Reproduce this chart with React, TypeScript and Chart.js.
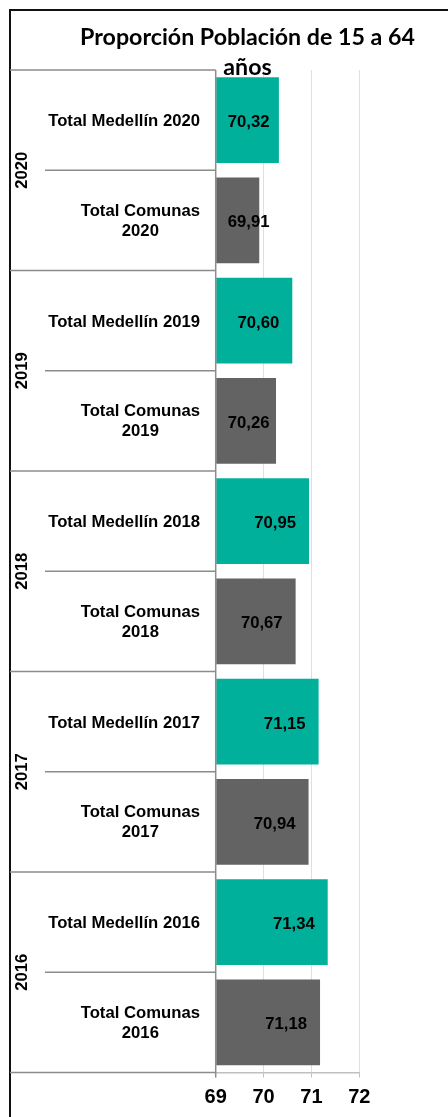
import React, { useEffect, useRef } from 'react';
import { Chart, registerables } from 'chart.js';

Chart.register(...registerables);

const years = ['2020', '2019', '2018', '2017', '2016'];
const medellin = [70.32, 70.6, 70.95, 71.15, 71.34];
const comunas = [69.91, 70.26, 70.67, 70.94, 71.18];
const xTicks = [69, 70, 71, 72];
const titleLines = ['Proporción Población de 15 a 64', 'años'];

const TEAL = '#00B09B';
const GRAY = '#636363';
const SANS = "'Liberation Sans', Arial, sans-serif";
const TITLE_FONT = "Lato, 'Open Sans', sans-serif";

const catLabels: string[][] = [];
const values: number[] = [];
const colors: string[] = [];
years.forEach((y, i) => {
  catLabels.push([`Total Medellín ${y}`]);
  values.push(medellin[i]);
  colors.push(TEAL);
  catLabels.push(['Total Comunas', y]);
  values.push(comunas[i]);
  colors.push(GRAY);
});

const fmt = (v: number) => v.toFixed(2).replace('.', ',');

const decorPlugin = {
  id: 'decor',
  afterDatasetsDraw(chart: any) {
    const { ctx, chartArea: ca, scales } = chart;
    const xs = scales.x;
    const ys = scales.y;
    ctx.save();
    ctx.font = `bold 16.7px ${SANS}`;
    ctx.fillStyle = '#000';
    ctx.textAlign = 'left';
    ctx.textBaseline = 'alphabetic';
    values.forEach((v, i) => {
      const start = xs.getPixelForValue(69);
      const end = xs.getPixelForValue(v);
      const txt = fmt(v);
      const w = ctx.measureText(txt).width;
      const x = Math.max(start + 12, end - 13 - w);
      const cy = ys.getPixelForValue(i);
      ctx.fillText(txt, x, cy + 7);
    });
    ctx.restore();
  },
  afterDraw(chart: any) {
    const { ctx, chartArea: ca, scales } = chart;
    const ys = scales.y;
    ctx.save();
    // frame
    ctx.strokeStyle = '#111';
    ctx.lineWidth = 2;
    ctx.beginPath();
    ctx.moveTo(10, 1117);
    ctx.lineTo(10, 10);
    ctx.lineTo(448, 10);
    ctx.stroke();

    // title
    ctx.fillStyle = '#000';
    ctx.textAlign = 'center';
    ctx.textBaseline = 'alphabetic';
    ctx.font = `bold 22px ${TITLE_FONT}`;
    const w0 = ctx.measureText(titleLines[0]).width;
    const tSize = (22 * 335) / w0;
    ctx.font = `bold ${tSize}px ${TITLE_FONT}`;
    ctx.fillText(titleLines[0], 247.5, 45);
    ctx.fillText(titleLines[1], 247.5, 75);

    // category separators
    const n = catLabels.length;
    const step = (ca.bottom - ca.top) / n;
    ctx.strokeStyle = '#8c8c8c';
    ctx.lineWidth = 1.5;
    for (let i = 0; i <= n; i++) {
      const yy = ca.top + i * step;
      const x0 = i % 2 === 0 ? 10 : 45;
      ctx.beginPath();
      ctx.moveTo(x0, yy);
      ctx.lineTo(ca.left, yy);
      ctx.stroke();
    }
    // value axis base line
    ctx.beginPath();
    ctx.moveTo(ca.left, ca.top);
    ctx.lineTo(ca.left, ca.bottom + 5);
    ctx.stroke();

    // category labels
    ctx.font = `bold 16.7px ${SANS}`;
    ctx.fillStyle = '#000';
    ctx.textAlign = 'center';
    const lh = 19.7;
    catLabels.forEach((lines, i) => {
      const cy = ys.getPixelForValue(i);
      const maxW = Math.max(...lines.map((l) => ctx.measureText(l).width));
      const cx = 200 - maxW / 2;
      const top = cy - ((lines.length - 1) * lh) / 2 + 6;
      lines.forEach((l, k) => ctx.fillText(l, cx, top + k * lh - (lines.length > 1 ? 0.7 : 0)));
    });

    // year labels rotated
    years.forEach((yr, g) => {
      const cy = (ys.getPixelForValue(2 * g) + ys.getPixelForValue(2 * g + 1)) / 2;
      ctx.save();
      ctx.translate(27, cy);
      ctx.rotate(-Math.PI / 2);
      ctx.textAlign = 'center';
      ctx.textBaseline = 'alphabetic';
      ctx.fillText(yr, 0, 0);
      ctx.restore();
    });
    ctx.restore();
  },
};

export default function App() {
  const ref = useRef<HTMLCanvasElement | null>(null);
  useEffect(() => {
    document.body.style.margin = '0';
    const canvas = ref.current;
    if (!canvas) return;
    const chart = new Chart(canvas, {
      type: 'bar',
      data: {
        labels: catLabels.map((l) => l.join(' ')),
        datasets: [
          {
            data: values,
            backgroundColor: colors,
            base: 69,
            barPercentage: 0.855,
            categoryPercentage: 1,
            borderWidth: 0,
          } as any,
        ],
      },
      options: {
        indexAxis: 'y',
        responsive: false,
        animation: false,
        devicePixelRatio: 1,
        layout: { padding: { top: 70, left: 215.7, right: 88.7, bottom: 0 } },
        plugins: {
          legend: { display: false },
          title: { display: false },
          tooltip: { enabled: false },
        },
        scales: {
          x: {
            type: 'linear',
            min: 69,
            max: 72,
            afterBuildTicks: (s: any) => {
              s.ticks = xTicks.map((v) => ({ value: v }));
            },
            afterFit: (s: any) => {
              s.height = 44.5;
            },
            grid: {
              color: '#d9e1e1',
              tickColor: '#bfbfbf',
              tickLength: 5,
              lineWidth: 1,
            },
            border: { color: '#bfbfbf', width: 1.5 },
            ticks: {
              font: { family: SANS, size: 20, weight: 'bold' },
              color: '#000',
              padding: 8,
              callback: (v: any) => String(v),
            },
          },
          y: { display: false },
        },
      } as any,
      plugins: [decorPlugin],
    });
    return () => chart.destroy();
  }, []);
  return (
    <canvas
      ref={ref}
      width={448}
      height={1117}
      style={{ display: 'block', width: 448, height: 1117 }}
    />
  );
}
